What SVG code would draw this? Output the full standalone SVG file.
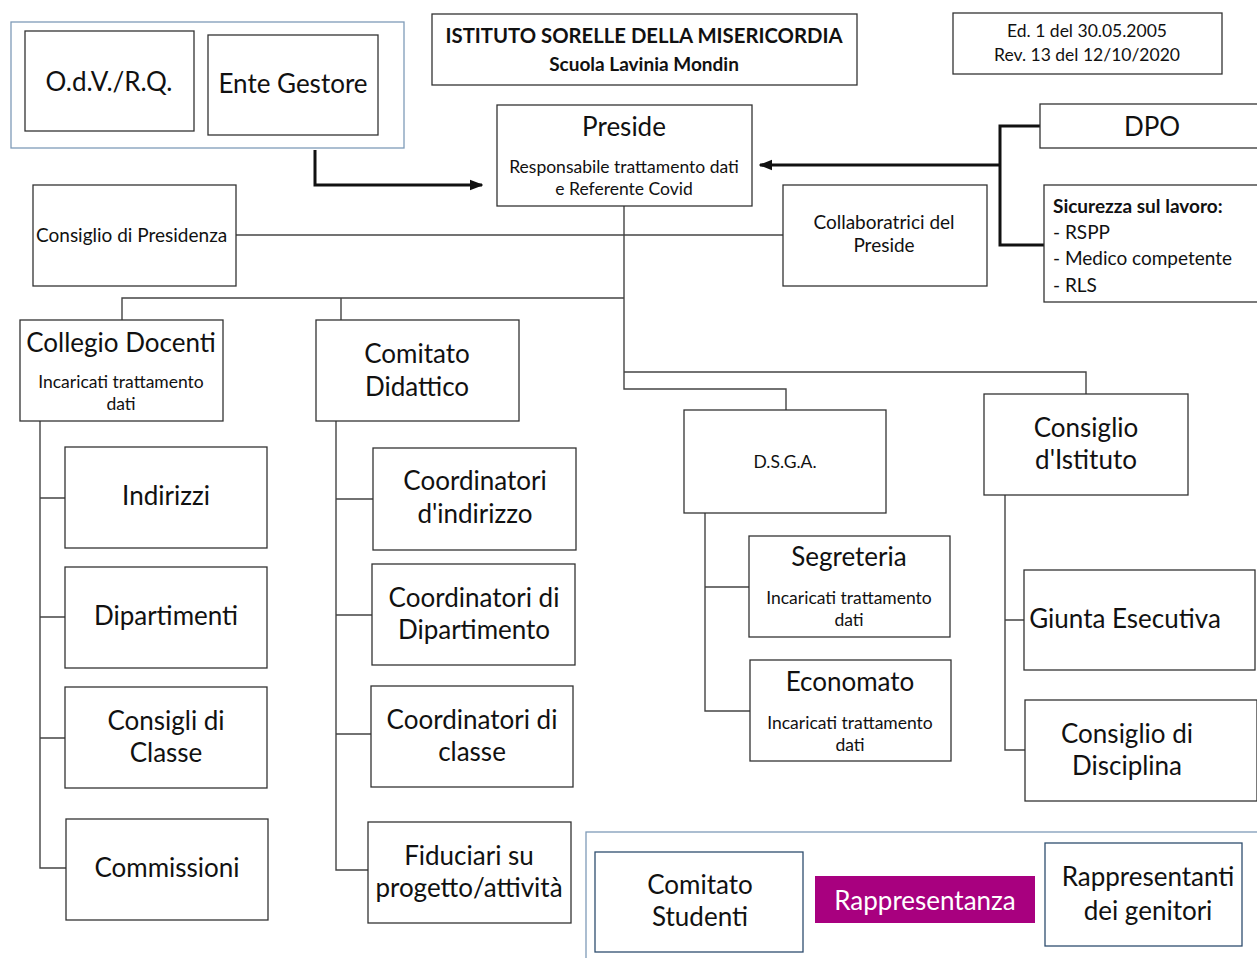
<svg xmlns="http://www.w3.org/2000/svg" width="1257" height="958" viewBox="0 0 1257 958">
<defs>
<style>
text{font-family:Lato,"Open Sans","Liberation Sans",sans-serif;fill:#111;text-anchor:middle}
.box{fill:#fff;stroke:#333;stroke-width:1.3}
.frame{fill:none;stroke:#7f9bb8;stroke-width:1.3}
.bluebox{fill:#fff;stroke:#2f4e6f;stroke-width:1.3}
.ln{fill:none;stroke:#444;stroke-width:1.4}
.thick{fill:none;stroke:#111;stroke-width:3}
.big{font-size:26px}
.mid{font-size:19px}
.sm{font-size:17.5px}
.b{font-weight:bold}
</style>
<marker id="ah" viewBox="0 0 10 10" refX="9" refY="5" markerWidth="4.5" markerHeight="4.5" orient="auto" markerUnits="strokeWidth">
<path d="M0,1 L10,5 L0,9 z" fill="#111"/>
</marker>
</defs>
<rect width="1257" height="958" fill="#fff"/>

<g id="connectors">
<path class="thick" d="M315,150 V185 H482" marker-end="url(#ah)"/>
<path class="thick" d="M1000,165 H760" marker-end="url(#ah)"/>
<path class="thick" d="M1040,126 H1000 V245 H1044"/>
<path class="ln" d="M236,235 H783"/>
<path class="ln" d="M624,206 V389 H786 V410"/>
<path class="ln" d="M624,298 H122 V320 M341,298 V320"/>
<path class="ln" d="M624,372 H1086 V394"/>
<path class="ln" d="M40,421 V868 H66 M40,498 H65 M40,617 H65 M40,738 H65"/>
<path class="ln" d="M336,421 V870 H368 M336,499 H373 M336,615 H372 M336,734 H371"/>
<path class="ln" d="M705,513 V711 H750 M705,587 H749"/>
<path class="ln" d="M1005,495 V750 H1025 M1005,620 H1024"/>
</g>

<g id="frame-top">
<rect class="frame" x="11" y="22" width="393" height="126"/>
</g>
<g id="odv">
<rect class="box" x="25" y="31" width="169" height="100"/>
<text class="big" x="109" y="91">O.d.V./R.Q.</text>
</g>
<g id="ente">
<rect class="box" x="208" y="35" width="170" height="100"/>
<text class="big" x="293" y="93">Ente Gestore</text>
</g>

<g id="title">
<rect class="box" x="432" y="14" width="425" height="71"/>
<text class="b" x="644" y="43" font-size="20.3">ISTITUTO SORELLE DELLA MISERICORDIA</text>
<text class="b" x="644" y="71" font-size="19">Scuola Lavinia Mondin</text>
</g>

<g id="edition">
<rect class="box" x="953" y="13" width="269" height="61"/>
<text class="sm" x="1087" y="37">Ed. 1 del 30.05.2005</text>
<text class="sm" x="1087" y="61">Rev. 13 del 12/10/2020</text>
</g>

<g id="preside">
<rect class="box" x="497" y="105" width="255" height="101"/>
<text class="big" x="624" y="136">Preside</text>
<text class="sm" x="624" y="173">Responsabile trattamento dati</text>
<text class="sm" x="624" y="195">e Referente Covid</text>
</g>

<g id="dpo">
<rect class="box" x="1040" y="104" width="220" height="44"/>
<text class="big" x="1152" y="136">DPO</text>
</g>

<g id="sicurezza">
<rect class="box" x="1044" y="185" width="216" height="117"/>
<text class="mid b" x="1053" y="213" style="text-anchor:start">Sicurezza sul lavoro:</text>
<text class="mid" x="1053" y="239" style="text-anchor:start">- RSPP</text>
<text class="mid" x="1053" y="265" style="text-anchor:start">- Medico competente</text>
<text class="mid" x="1053" y="292" style="text-anchor:start">- RLS</text>
</g>

<g id="presidenza">
<rect class="box" x="33" y="185" width="203" height="101"/>
<text class="mid" x="36" y="242" style="text-anchor:start">Consiglio di Presidenza</text>
</g>

<g id="collaboratrici">
<rect class="box" x="783" y="185" width="204" height="101"/>
<text class="mid" x="884" y="229">Collaboratrici del</text>
<text class="mid" x="884" y="252">Preside</text>
</g>

<g id="collegio">
<rect class="box" x="20" y="320" width="203" height="101"/>
<text class="big" x="121" y="352">Collegio Docenti</text>
<text class="sm" x="121" y="388">Incaricati trattamento</text>
<text class="sm" x="121" y="410">dati</text>
</g>

<g id="comitato-didattico">
<rect class="box" x="316" y="320" width="203" height="101"/>
<text class="big" x="417" y="363">Comitato</text>
<text class="big" x="417" y="396">Didattico</text>
</g>

<g id="indirizzi">
<rect class="box" x="65" y="447" width="202" height="101"/>
<text class="big" x="166" y="505">Indirizzi</text>
</g>
<g id="dipartimenti">
<rect class="box" x="65" y="567" width="202" height="101"/>
<text class="big" x="166" y="625">Dipartimenti</text>
</g>
<g id="consigli-classe">
<rect class="box" x="65" y="687" width="202" height="101"/>
<text class="big" x="166" y="730">Consigli di</text>
<text class="big" x="166" y="762">Classe</text>
</g>
<g id="commissioni">
<rect class="box" x="66" y="819" width="202" height="101"/>
<text class="big" x="167" y="877">Commissioni</text>
</g>

<g id="coord-indirizzo">
<rect class="box" x="373" y="448" width="203" height="102"/>
<text class="big" x="475" y="490">Coordinatori</text>
<text class="big" x="475" y="523">d'indirizzo</text>
</g>
<g id="coord-dipartimento">
<rect class="box" x="372" y="564" width="203" height="101"/>
<text class="big" x="474" y="607">Coordinatori di</text>
<text class="big" x="474" y="639">Dipartimento</text>
</g>
<g id="coord-classe">
<rect class="box" x="371" y="686" width="202" height="101"/>
<text class="big" x="472" y="729">Coordinatori di</text>
<text class="big" x="472" y="761">classe</text>
</g>
<g id="fiduciari">
<rect class="box" x="368" y="822" width="203" height="101"/>
<text class="big" x="469" y="865">Fiduciari su</text>
<text class="big" x="469" y="897">progetto/attività</text>
</g>

<g id="dsga">
<rect class="box" x="684" y="410" width="202" height="103"/>
<text class="sm" x="785" y="468">D.S.G.A.</text>
</g>
<g id="segreteria">
<rect class="box" x="749" y="536" width="201" height="101"/>
<text class="big" x="849" y="566">Segreteria</text>
<text class="sm" x="849" y="604">Incaricati trattamento</text>
<text class="sm" x="849" y="626">dati</text>
</g>
<g id="economato">
<rect class="box" x="750" y="660" width="201" height="101"/>
<text class="big" x="850" y="691">Economato</text>
<text class="sm" x="850" y="729">Incaricati trattamento</text>
<text class="sm" x="850" y="751">dati</text>
</g>

<g id="consiglio-istituto">
<rect class="box" x="984" y="394" width="204" height="101"/>
<text class="big" x="1086" y="437">Consiglio</text>
<text class="big" x="1086" y="469">d'Istituto</text>
</g>
<g id="giunta">
<rect class="box" x="1024" y="570" width="231" height="100"/>
<text class="big" x="1125" y="628">Giunta Esecutiva</text>
</g>
<g id="disciplina">
<rect class="box" x="1025" y="700" width="232" height="101"/>
<text class="big" x="1127" y="743">Consiglio di</text>
<text class="big" x="1127" y="775">Disciplina</text>
</g>

<g id="frame-bottom">
<rect class="frame" x="586" y="832" width="680" height="140"/>
</g>
<g id="comitato-studenti">
<rect class="bluebox" x="595" y="852" width="208" height="100"/>
<text class="big" x="700" y="894">Comitato</text>
<text class="big" x="700" y="926">Studenti</text>
</g>
<g id="rappresentanza">
<rect x="815" y="876" width="220" height="47" fill="#a8007f"/>
<text class="big" x="925" y="910" style="fill:#fff">Rappresentanza</text>
</g>
<g id="genitori">
<rect class="bluebox" x="1045" y="843" width="197" height="103"/>
<text class="big" x="1148" y="886">Rappresentanti</text>
<text class="big" x="1148" y="920">dei genitori</text>
</g>
</svg>
